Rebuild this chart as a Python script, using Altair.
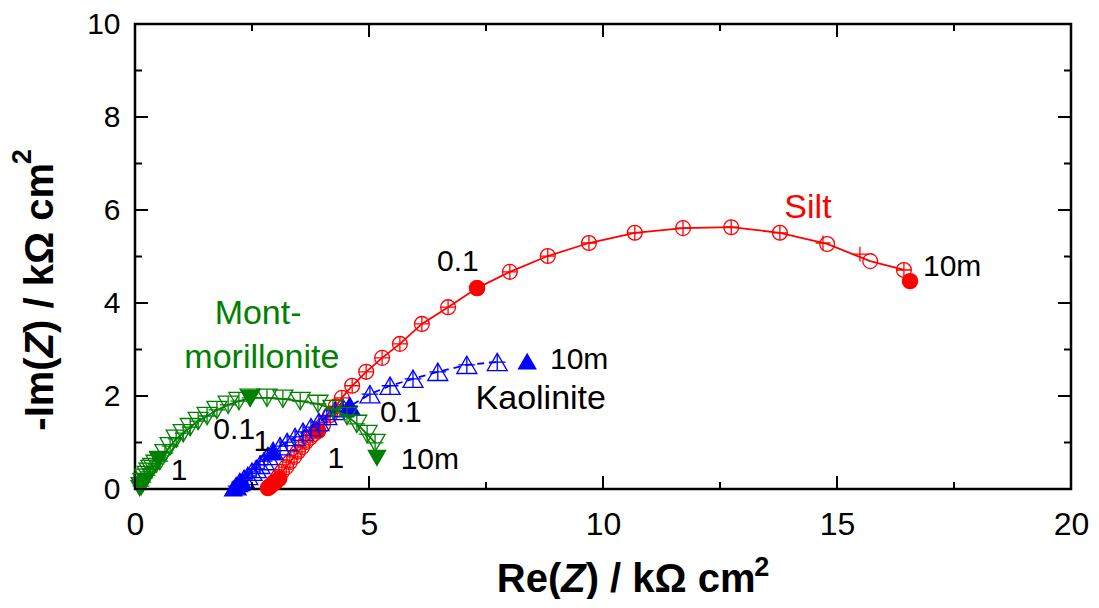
import altair as alt
import pandas as pd

FONT = "Liberation Sans"
W_PLOT, H_PLOT = 936, 465
RED, BLUE, GREEN, BLACK = "#ff0000", "#0000ff", "#008000", "#000000"

# ---------------- data: Re(Z), -Im(Z) in kOhm cm2 ----------------
# Silt: open circles (measured), "+" overlay, filled = decade frequencies
silt_re = [2.88, 2.97, 3.06, 3.14, 3.23, 3.31, 3.40, 3.48, 3.57, 3.65, 3.74, 3.82,
           3.91, 4.02, 4.17, 4.29, 4.42, 4.64, 4.94, 5.28, 5.66, 6.13, 6.69, 7.31,
           8.01, 8.82, 9.70, 10.68, 11.71, 12.74, 13.78, 14.79, 15.71, 16.43]
silt_im = [0.04, 0.15, 0.26, 0.37, 0.47, 0.58, 0.69, 0.80, 0.90, 1.01, 1.10, 1.18,
           1.25, 1.38, 1.59, 1.78, 1.96, 2.22, 2.52, 2.82, 3.12, 3.55, 3.91, 4.32,
           4.67, 5.01, 5.29, 5.51, 5.61, 5.63, 5.51, 5.27, 4.90, 4.71]
silt_plus_re = silt_re[:31] + [14.70, 15.49, 16.43]
silt_plus_im = silt_im[:31] + [5.29, 5.05, 4.71]
silt_fill_re = [2.84, 2.88, 2.95, 3.01, 3.08, 3.91, 7.31, 16.56]
silt_fill_im = [0.02, 0.06, 0.11, 0.15, 0.22, 1.25, 4.32, 4.47]

# Kaolinite
kao_re = [2.16, 2.24, 2.33, 2.41, 2.50, 2.59, 2.67, 2.76, 2.84, 2.95, 3.10, 3.25,
          3.42, 3.59, 3.76, 3.93, 4.10, 4.27, 4.45, 4.59, 5.02, 5.45, 5.94, 6.47,
          7.09, 7.74]
kao_im = [0.06, 0.15, 0.22, 0.28, 0.37, 0.43, 0.52, 0.60, 0.71, 0.82, 0.92, 1.01,
          1.12, 1.23, 1.33, 1.44, 1.57, 1.68, 1.74, 1.78, 2.04, 2.22, 2.37, 2.52,
          2.67, 2.73]
kao_fill_re = [2.10, 2.16, 2.22, 2.30, 2.95, 4.59, 8.38]
kao_fill_im = [0.02, 0.06, 0.11, 0.16, 0.80, 1.78, 2.75]

# Montmorillonite
mont_re = [0.13, 0.17, 0.21, 0.26, 0.30, 0.34, 0.38, 0.45, 0.53, 0.64, 0.75, 0.88,
           1.03, 1.18, 1.35, 1.54, 1.75, 1.99, 2.22, 2.46, 2.82, 3.16, 3.53, 3.91,
           4.23, 4.53, 4.74, 4.96, 5.13]
mont_im = [0.06, 0.15, 0.24, 0.30, 0.37, 0.43, 0.47, 0.54, 0.60, 0.77, 0.92, 1.08,
           1.20, 1.33, 1.46, 1.57, 1.70, 1.81, 1.89, 1.96, 1.96, 1.94, 1.89, 1.83,
           1.72, 1.57, 1.40, 1.18, 0.99]
mont_fill_re = [0.10, 0.13, 0.17, 0.22, 0.50, 2.46, 5.17]
mont_fill_im = [0.01, 0.05, 0.10, 0.16, 0.64, 1.95, 0.66]

# annotations
ann_text = ["Silt", "Kaolinite", "Mont-", "morillonite",
            "0.1", "10m", "10m", "0.1", "1", "10m", "1", "0.1", "1"]
ann_x = [14.38, 8.67, 2.63, 2.71, 6.90, 17.46, 9.49, 5.68, 4.29, 6.30, 2.71, 2.12, 0.94]
ann_y = [6.04, 1.94, 3.76, 2.82, 4.88, 4.77, 2.77, 1.63, 0.65, 0.62, 1.01, 1.27, 0.39]
ann_color = [RED, BLACK, GREEN, GREEN] + [BLACK] * 9
ann_size = [34, 34, 34, 34] + [30] * 9

x_major = [0, 5, 10, 15, 20]
x_minor = [2.5, 7.5, 12.5, 17.5]
y_major = [0, 2, 4, 6, 8, 10]
y_minor = [1, 3, 5, 7, 9]

# ---------------- chart ----------------
xs = alt.Scale(domain=[0, 20], nice=False, zero=False)
ys = alt.Scale(domain=[0, 10], nice=False, zero=False)
xaxis = alt.Axis(values=x_major, format="d", title=None, ticks=False, domain=False,
                 grid=False, labelFont=FONT, labelFontSize=32, labelColor=BLACK,
                 labelPadding=20, labelFlush=False, labelOverlap=False)
yaxis = alt.Axis(values=y_major, format="d", title=None, ticks=False, domain=False,
                 grid=False, labelFont=FONT, labelFontSize=30, labelColor=BLACK,
                 labelPadding=15, labelFlush=False, labelOverlap=False)
X = alt.X("re:Q", scale=xs, axis=xaxis)
Y = alt.Y("im:Q", scale=ys, axis=yaxis)

PLUS = "M-1,0L1,0M0,-1L0,1"


def df(re, im):
    return pd.DataFrame({"re": re, "im": im, "i": list(range(len(re)))})


layers = []
specs = [
    # open, plus, filled sizes
    (silt_re, silt_im, silt_plus_re, silt_plus_im, silt_fill_re, silt_fill_im,
     RED, "circle", [], 220, 220, 270),
    (kao_re, kao_im, kao_re, kao_im, kao_fill_re, kao_fill_im,
     BLUE, "triangle-up", [7, 5], 400, 280, 380),
    (mont_re, mont_im, mont_re, mont_im, mont_fill_re, mont_fill_im,
     GREEN, "triangle-down", [], 400, 280, 380),
]
for re, im, pre, pim, fre, fim, col, shape, dash, s_open, s_plus, s_fill in specs:
    line_kw = dict(color=col, strokeWidth=1.8)
    if dash:
        line_kw["strokeDash"] = dash
    layers.append(alt.Chart(df(re, im)).mark_line(**line_kw).encode(
        x=X, y=Y, order="i:Q"))
    layers.append(alt.Chart(df(re, im)).mark_point(
        shape=shape, filled=False, color=col, size=s_open, strokeWidth=1.3,
        opacity=1).encode(x=X, y=Y))
    layers.append(alt.Chart(df(pre, pim)).mark_point(
        shape=PLUS, filled=False, color=col, size=s_plus, strokeWidth=1.3,
        opacity=1).encode(x=X, y=Y))
    layers.append(alt.Chart(df(fre, fim)).mark_point(
        shape=shape, filled=True, color=col, size=s_fill, opacity=1).encode(x=X, y=Y))

# annotations
ann = pd.DataFrame({"t": ann_text, "re": ann_x, "im": ann_y,
                    "c": ann_color, "s": ann_size})
layers.append(alt.Chart(ann).mark_text(font=FONT, align="center",
                                       baseline="middle").encode(
    x=X, y=Y, text="t:N",
    color=alt.Color("c:N", scale=None),
    size=alt.Size("s:Q", scale=None)))

# inward ticks on all four sides
TL_MAJ, TL_MIN = 13, 7


def xticks(vals, length):
    d = pd.DataFrame({"re": vals})
    b = alt.Chart(d).mark_rule(color=BLACK, strokeWidth=2)
    return [b.encode(x=X, y=alt.value(H_PLOT), y2=alt.value(H_PLOT - length)),
            b.encode(x=X, y=alt.value(0), y2=alt.value(length))]


def yticks(vals, length):
    d = pd.DataFrame({"im": vals})
    b = alt.Chart(d).mark_rule(color=BLACK, strokeWidth=2)
    return [b.encode(y=Y, x=alt.value(0), x2=alt.value(length)),
            b.encode(y=Y, x=alt.value(W_PLOT), x2=alt.value(W_PLOT - length))]


layers += xticks(x_major, TL_MAJ) + xticks(x_minor, TL_MIN)
layers += yticks(y_major, TL_MAJ) + yticks(y_minor, TL_MIN)

# axis titles made of text pieces (italic Z, superscript 2)
WID = {'-': 333, 'I': 278, 'm': 889, '(': 333, ')': 333, 'Z': 611, ' ': 278,
       '/': 278, 'k': 556, 'Ω': 768, 'c': 556, '2': 556, 'R': 722, 'e': 556}


def title_layers(pieces, center, base, vertical):
    widths = [sum(WID.get(ch, 556) for ch in t) / 1000 * s for t, it, s, r in pieces]
    total = sum(widths)
    pos = 0.0
    out = []
    for (t, italic, size, rise), w in zip(pieces, widths):
        d = pd.DataFrame({"t": [t]})
        kw = dict(font=FONT, fontWeight="bold", fontSize=size, align="left",
                  baseline="alphabetic", color=BLACK)
        if italic:
            kw["fontStyle"] = "italic"
        if vertical:
            kw["angle"] = 270
            enc = dict(x=alt.value(base - rise), y=alt.value(center + total / 2 - pos))
        else:
            enc = dict(x=alt.value(center - total / 2 + pos), y=alt.value(base - rise))
        out.append(alt.Chart(d).mark_text(**kw).encode(text="t:N", **enc))
        pos += w
    return out


layers += title_layers([("Re(", False, 40, 0), ("Z", True, 40, 0),
                        (") / kΩ cm", False, 40, 0), ("2", False, 27, 16)],
                       center=498, base=568, vertical=False)
layers += title_layers([("-Im(", False, 40, 0), ("Z", True, 40, 0),
                        (") / kΩ cm", False, 40, 0), ("2", False, 27, 22)],
                       center=266, base=-82, vertical=True)

chart = alt.layer(*layers).properties(
    width=W_PLOT, height=H_PLOT,
    autosize=alt.AutoSizeParams(type="none"),
    padding={"left": 127, "top": 16, "right": 20, "bottom": 110},
    background="white",
).configure_view(stroke=BLACK, strokeWidth=2.5)

chart.save("out.html", embed_options={"renderer": "svg", "actions": False})
